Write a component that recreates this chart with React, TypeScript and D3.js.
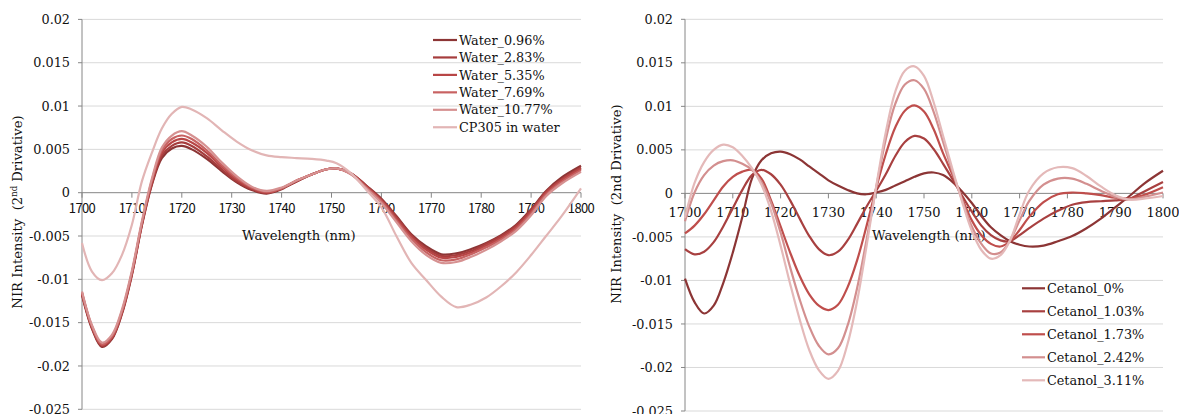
import React from 'react';
import * as d3 from 'd3';

// ---- Left panel: water series ----
const waterWavelengths = [
  1700, 1702, 1704, 1706, 1708, 1710, 1712, 1714, 1716, 1718, 1720, 1722, 1725, 1728, 1731, 1734, 1737,
  1740, 1743, 1746, 1749, 1751, 1754, 1757, 1760, 1763, 1766, 1769, 1772, 1775, 1778, 1781, 1784, 1787,
  1790, 1793, 1796, 1800,
];
const water096 = [
  -0.0118, -0.0157, -0.0178, -0.0169, -0.014, -0.0095, -0.0038, 0.0009, 0.004, 0.0051, 0.0054, 0.005,
  0.0039, 0.0025, 0.0012, 0.0003, -0.0001, 0.0004, 0.0013, 0.0021, 0.0027, 0.0028, 0.0022, 0.0008,
  -0.0007, -0.0027, -0.0048, -0.0062, -0.0071, -0.007, -0.0065, -0.0058, -0.0049, -0.0037, -0.0019,
  0.0002, 0.0017, 0.0031,
];
const water283 = [
  -0.0117, -0.0156, -0.0177, -0.0168, -0.0139, -0.0094, -0.0037, 0.001, 0.0043, 0.0054, 0.0058, 0.0054,
  0.0042, 0.0027, 0.0013, 0.0004, 0.0, 0.0005, 0.0013, 0.0021, 0.0027, 0.0028, 0.0022, 0.0008, -0.0008,
  -0.0028, -0.0049, -0.0064, -0.0073, -0.0072, -0.0067, -0.0059, -0.005, -0.0038, -0.002, 0.0001,
  0.0015, 0.0029,
];
const water535 = [
  -0.0116, -0.0155, -0.0176, -0.0167, -0.0138, -0.0093, -0.0036, 0.0012, 0.0046, 0.0058, 0.0062, 0.0058,
  0.0046, 0.003, 0.0015, 0.0005, 0.0, 0.0005, 0.0014, 0.0021, 0.0027, 0.0028, 0.0022, 0.0007, -0.0009,
  -0.003, -0.0051, -0.0066, -0.0075, -0.0074, -0.0069, -0.0061, -0.0052, -0.004, -0.0022, 0.0,
  0.0014, 0.0028,
];
const water769 = [
  -0.0115, -0.0154, -0.0175, -0.0166, -0.0137, -0.0092, -0.0035, 0.0014, 0.0049, 0.0062, 0.0066, 0.0062,
  0.0049, 0.0032, 0.0017, 0.0006, 0.0001, 0.0005, 0.0014, 0.0021, 0.0027, 0.0028, 0.0021, 0.0006,
  -0.001, -0.0032, -0.0053, -0.0069, -0.0078, -0.0077, -0.0071, -0.0063, -0.0054, -0.0042, -0.0024,
  -0.0002, 0.0012, 0.0026,
];
const water1077 = [
  -0.0114, -0.0153, -0.0173, -0.0164, -0.0135, -0.009, -0.0033, 0.0016, 0.0052, 0.0066, 0.0071,
  0.0066, 0.0053, 0.0035, 0.0019, 0.0007, 0.0002, 0.0006, 0.0014, 0.0021, 0.0027, 0.0028, 0.0021,
  0.0005, -0.0012, -0.0034, -0.0056, -0.0072, -0.0081, -0.008, -0.0074, -0.0066, -0.0056, -0.0044,
  -0.0026, -0.0004, 0.001, 0.0024,
];
const cp305Water = [
  -0.0058, -0.0091, -0.0101, -0.0093, -0.0072, -0.0037, 0.0013, 0.0046, 0.0074, 0.0091, 0.0099, 0.0096,
  0.0086, 0.0072, 0.0059, 0.0049, 0.0043, 0.0041, 0.004, 0.0039, 0.0037, 0.0034, 0.0022, 0.0003,
  -0.0017, -0.005, -0.0081, -0.0101, -0.012, -0.0132, -0.0129, -0.0121, -0.0108, -0.0092, -0.0072,
  -0.005, -0.0028, 0.0005,
];

// ---- Right panel: cetanol series ----
const cetanolWavelengths = [
  1700, 1702, 1704, 1706, 1708, 1710, 1712, 1714, 1716, 1718, 1720, 1722, 1724, 1726, 1728, 1730, 1732,
  1734, 1736, 1738, 1740, 1742, 1744, 1746, 1748, 1750, 1752, 1754, 1756, 1758, 1760, 1762, 1764, 1766,
  1768, 1770, 1772, 1775, 1778, 1781, 1784, 1787, 1790, 1793, 1796, 1800,
];
const cetanol0 = [
  -0.0098, -0.0125, -0.0138, -0.0129, -0.0103, -0.0068, -0.0027, 0.0017, 0.0038, 0.0046, 0.0048,
  0.0045, 0.0039, 0.0031, 0.0023, 0.0015, 0.0009, 0.0004, 0.0, -0.0001, 0.0001, 0.0004, 0.0009, 0.0014,
  0.0019, 0.0023, 0.0024, 0.0021, 0.0013, 0.0002, -0.0011, -0.0026, -0.0039, -0.0048, -0.0055, -0.0059,
  -0.0061, -0.006, -0.0055, -0.0049, -0.004, -0.0029, -0.0016, -0.0003, 0.0011, 0.0026,
];
const cetanol103 = [
  -0.0064, -0.007, -0.0067, -0.0056, -0.0038, -0.0017, 0.0004, 0.0021, 0.0027, 0.0022, 0.001, -0.0008,
  -0.0029, -0.0049, -0.0064, -0.0071, -0.0067, -0.0054, -0.0035, -0.0015, 0.0003, 0.0022, 0.0043,
  0.0059, 0.0066, 0.0063, 0.0051, 0.0034, 0.0016, -0.0003, -0.0021, -0.0037, -0.0048, -0.0054, -0.0055,
  -0.0048, -0.004, -0.0029, -0.002, -0.0013, -0.001, -0.0009, -0.0008, -0.0006, 0.0002, 0.0013,
];
const cetanol173 = [
  -0.0046, -0.0037, -0.0024, -0.0008, 0.0008, 0.0019, 0.0025, 0.0027, 0.0017, -0.0008, -0.0038,
  -0.0068, -0.0095, -0.0116, -0.0129, -0.0134, -0.0128, -0.0108, -0.0077, -0.0037, 0.0006, 0.0045,
  0.0076, 0.0095, 0.0101, 0.0094, 0.0074, 0.0046, 0.0021, -0.0006, -0.0031, -0.0048, -0.0058, -0.0061,
  -0.0055, -0.0042, -0.0027, -0.001, -0.0001, 0.0001, 0.0, -0.0002, -0.0005, -0.0006, -0.0002, 0.0007,
];
const cetanol242 = [
  -0.0032, 0.0001, 0.0021, 0.0032, 0.0037, 0.0038, 0.0034, 0.0027, 0.0013, -0.0011, -0.0045, -0.0085,
  -0.0122, -0.0153, -0.0175, -0.0185, -0.0178, -0.0152, -0.0109, -0.0053, 0.0007, 0.0062, 0.0103,
  0.0125, 0.013, 0.012, 0.0094, 0.0059, 0.0024, -0.0008, -0.0038, -0.0058, -0.0069, -0.0068, -0.0054,
  -0.0031, -0.0009, 0.001, 0.0017, 0.0017, 0.0011, 0.0003, -0.0004, -0.0007, -0.0004, 0.0001,
];
const cetanol311 = [
  -0.0028, 0.0012, 0.0036, 0.005, 0.0056, 0.0053, 0.0043, 0.0029, 0.001, -0.002, -0.006, -0.0104,
  -0.0145, -0.018, -0.0203, -0.0213, -0.0204, -0.0173, -0.0124, -0.006, 0.0008, 0.007, 0.0117, 0.0141,
  0.0146, 0.0135, 0.0105, 0.0066, 0.0027, -0.001, -0.0043, -0.0065, -0.0075, -0.0071, -0.0054, -0.0024,
  0.0003, 0.0023, 0.003, 0.0029, 0.002, 0.0008, -0.0002, -0.0007, -0.0006, -0.0003,
];

const waterNames = ['Water_0.96%', 'Water_2.83%', 'Water_5.35%', 'Water_7.69%', 'Water_10.77%', 'CP305 in water'];
const waterValues = [water096, water283, water535, water769, water1077, cp305Water];
const waterColors = ['#8c3535', '#a63d3d', '#b84646', '#c86262', '#d69191', '#e2b5b5'];

const cetanolNames = ['Cetanol_0%', 'Cetanol_1.03%', 'Cetanol_1.73%', 'Cetanol_2.42%', 'Cetanol_3.11%'];
const cetanolValues = [cetanol0, cetanol103, cetanol173, cetanol242, cetanol311];
const cetanolColors = ['#8c3535', '#a84040', '#bf4e4c', '#d38f8f', '#e4b9b9'];

const yTickValues = [0.02, 0.015, 0.01, 0.005, 0, -0.005, -0.01, -0.015, -0.02, -0.025];
const yTickLabels = ['0.02', '0.015', '0.01', '0.005', '0', '-0.005', '-0.01', '-0.015', '-0.02', '-0.025'];
const xTickValues = [1700, 1710, 1720, 1730, 1740, 1750, 1760, 1770, 1780, 1790, 1800];

const SERIF = '"DejaVu Serif", serif';
const GOTHIC = '"Noto Sans CJK JP", "Liberation Sans", sans-serif';
const GRID = '#d9d9d9';
const AXIS = '#868686';
const TEXT = '#111111';

type PanelProps = {
  left: number;
  right: number;
  top: number;
  bottom: number;
  wavelengths: number[];
  names: string[];
  values: number[][];
  colors: string[];
  xTickFont: string;
  xTickSize: number;
  xTickSpacing: number;
  xTickBaseline: number;
  xTitle: { x: number; y: number };
  yTitle: { x: number; y: number; superscript: boolean };
  legend: { x0: number; x1: number; tx: number; y0: number; step: number };
};

function Panel(p: PanelProps) {
  const x = d3.scaleLinear().domain([1700, 1800]).range([p.left, p.right]);
  const y = d3.scaleLinear().domain([0.02, -0.025]).range([p.top, p.bottom]);
  const line = d3
    .line<[number, number]>()
    .x((d) => x(d[0]))
    .y((d) => y(d[1]))
    .curve(d3.curveCatmullRom.alpha(0.5));

  return (
    <g>
      {yTickValues.map((v, i) => (
        <g key={'g' + i}>
          {v !== 0 && (
            <line x1={p.left} x2={p.right} y1={y(v)} y2={y(v)} stroke={GRID} strokeWidth={1} />
          )}
          <line x1={p.left - 4} x2={p.left} y1={y(v)} y2={y(v)} stroke={AXIS} strokeWidth={1} />
          <text
            x={p.left - 12}
            y={y(v)}
            dy="0.36em"
            textAnchor="end"
            fontFamily={SERIF}
            fontSize={12.8}
            fill={TEXT}
          >
            {yTickLabels[i]}
          </text>
        </g>
      ))}
      <line x1={p.left} x2={p.left} y1={p.top} y2={p.bottom} stroke={AXIS} strokeWidth={1} />
      <line x1={p.left} x2={p.right} y1={y(0)} y2={y(0)} stroke={AXIS} strokeWidth={1} />
      {xTickValues.map((v) => (
        <g key={'x' + v}>
          <line x1={x(v)} x2={x(v)} y1={y(0)} y2={y(0) + 5} stroke={AXIS} strokeWidth={1} />
          <text
            x={x(v)}
            y={p.xTickBaseline}
            textAnchor="middle"
            fontFamily={p.xTickFont}
            fontSize={p.xTickSize}
            letterSpacing={p.xTickSpacing}
            fill={TEXT}
          >
            {v}
          </text>
        </g>
      ))}
      <text x={p.xTitle.x} y={p.xTitle.y} fontFamily={SERIF} fontSize={13.2} fill={TEXT}>
        Wavelength (nm)
      </text>
      <text
        transform={`translate(${p.yTitle.x},${p.yTitle.y}) rotate(-90)`}
        textAnchor="middle"
        fontFamily={SERIF}
        fontSize={13.2}
        fill={TEXT}
        style={{ whiteSpace: 'pre' }}
      >
        {p.yTitle.superscript ? (
          <>
            {'NIR Intensity  (2'}
            <tspan fontSize={8.5} dy={-5}>
              nd
            </tspan>
            <tspan dy={5}>{' Drivative)'}</tspan>
          </>
        ) : (
          'NIR Intensity  (2nd Drivative)'
        )}
      </text>
      {p.values.map((vals, i) => (
        <path
          key={'s' + i}
          d={line(p.wavelengths.map((w, j) => [w, vals[j]] as [number, number])) || ''}
          fill="none"
          stroke={p.colors[i]}
          strokeWidth={2.2}
          strokeLinejoin="round"
        />
      ))}
      {p.names.map((n, i) => {
        const ly = p.legend.y0 + i * p.legend.step;
        return (
          <g key={'l' + i}>
            <line x1={p.legend.x0} x2={p.legend.x1} y1={ly} y2={ly} stroke={p.colors[i]} strokeWidth={2.2} />
            <text x={p.legend.tx} y={ly} dy="0.36em" fontFamily={SERIF} fontSize={12.8} fill={TEXT}>
              {n}
            </text>
          </g>
        );
      })}
    </g>
  );
}

export default function App() {
  return (
    <>
      <style>{'body{margin:0;overflow:hidden;background:#fff}'}</style>
      <svg width={1179} height={414} style={{ display: 'block', background: '#fff' }}>
        <Panel
          left={82}
          right={581}
          top={19.4}
          bottom={409.3}
          wavelengths={waterWavelengths}
          names={waterNames}
          values={waterValues}
          colors={waterColors}
          xTickFont={GOTHIC}
          xTickSize={13}
          xTickSpacing={-0.6}
          xTickBaseline={213}
          xTitle={{ x: 242, y: 240 }}
          yTitle={{ x: 22, y: 212, superscript: true }}
          legend={{ x0: 433, x1: 457, tx: 459, y0: 40, step: 17.45 }}
        />
        <Panel
          left={685}
          right={1163}
          top={19.3}
          bottom={411}
          wavelengths={cetanolWavelengths}
          names={cetanolNames}
          values={cetanolValues}
          colors={cetanolColors}
          xTickFont={SERIF}
          xTickSize={13}
          xTickSpacing={0}
          xTickBaseline={216.5}
          xTitle={{ x: 872, y: 240 }}
          yTitle={{ x: 621, y: 204, superscript: false }}
          legend={{ x0: 1022, x1: 1045, tx: 1047, y0: 288.3, step: 23 }}
        />
      </svg>
    </>
  );
}
